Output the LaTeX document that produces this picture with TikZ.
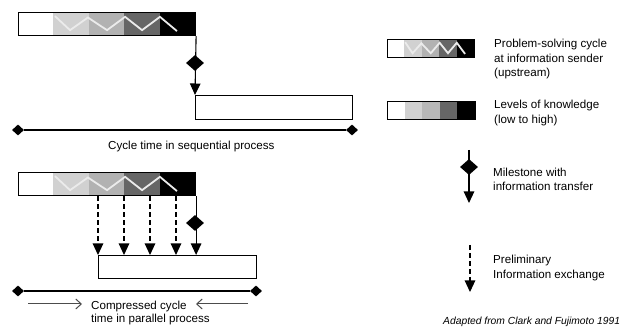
\documentclass[tikz,border=0pt]{standalone}
\usepackage{fontspec}
\setmainfont{Liberation Sans}
\usetikzlibrary{arrows.meta,shapes.geometric,calc}

% grey shading of a knowledge bar: five equal bands, light to dark
\newcommand{\shades}[5]{%
  \foreach \c [count=\i from 0] in {#5} {
    \fill[black!\c] ({#1+\i*#3/5},#2) rectangle ({#1+(\i+1)*#3/5},{#2+#4});
  }}
% white zigzag of the problem-solving cycle inside a bar
\newcommand{\zigzag}[4]{%
  \draw[zig] ({#1+0.209*#3},{#2+0.18*#4}) -- ({#1+0.294*#3},{#2+0.79*#4})
    -- ({#1+0.395*#3},{#2+0.24*#4}) -- ({#1+0.503*#3},{#2+0.79*#4})
    -- ({#1+0.605*#3},{#2+0.21*#4}) -- ({#1+0.701*#3},{#2+0.79*#4})
    -- ({#1+0.802*#3},{#2+0.21*#4}) -- ({#1+0.898*#3},{#2+0.83*#4});}

\tikzset{
  lbl/.style={anchor=base west, inner sep=0pt, font=\fontsize{11.6}{14}\selectfont},
  credit/.style={anchor=base west, inner sep=0pt, font=\fontsize{10.3}{12}\selectfont\itshape},
  frame/.style={draw=black, line width=1.1pt, anchor=north west, inner sep=0pt},
  stone/.style={diamond, fill=black, inner sep=0pt, minimum width=18pt, minimum height=16pt},
  endmark/.style={diamond, fill=black, inner sep=0pt, minimum width=12pt, minimum height=11pt},
  flow/.style={line width=1.1pt, -{Triangle[width=10.5pt,length=11.5pt]}},
  prelim/.style={flow, dash pattern=on 5pt off 3pt},
  zig/.style={white!92!black, line width=1.8pt, line join=miter},
  span/.style={line width=1.1pt},
  squeeze/.style={line width=1pt, draw=black!70, -{Straight Barb[length=5.5pt,width=10pt]}}
}

\begin{document}
\begin{tikzpicture}[x=1pt,y=-1pt]
\useasboundingbox (0,0) rectangle (625,328);

% ---------- sequential process ----------
\shades{18}{12}{177}{23}{0,18,30,60,100}
\zigzag{18}{12}{177}{23}
\node[frame, minimum width=177pt, minimum height=23pt] (barA) at (18,12) {};
\node[frame, minimum width=157pt, minimum height=24pt] (boxA) at (195,95) {};
\draw[flow] (barA.south east) -- (boxA.north west);
\node[stone] (msA) at (195,63) {};
\node[endmark] (startA) at (18,130) {};
\node[endmark] (stopA) at (352,130) {};
\draw[span] (startA) -- (stopA);
\node[lbl] (capA) at (108,150) {Cycle time in sequential process};

% ---------- parallel process ----------
\shades{18}{172}{177}{23}{0,18,30,60,100}
\zigzag{18}{172}{177}{23}
\node[frame, minimum width=177pt, minimum height=23pt] (barB) at (18,172) {};
\node[frame, minimum width=158pt, minimum height=23pt] (boxB) at (98,255) {};
\foreach \dx in {0,26,52,78}
  \draw[prelim] ([xshift=\dx pt]boxB.north west |- barB.south)
    -- ([xshift=\dx pt]boxB.north west);
\draw[flow] (barB.south east) -- (barB.south east |- boxB.north);
\node[stone] (msB) at (195,223) {};
\node[endmark] (startB) at (18,291) {};
\node[endmark] (stopB) at (256,291) {};
\draw[span] (startB) -- (stopB);
\coordinate (inL0) at (28,304);
\coordinate (inL1) at (82,304);
\coordinate (inR0) at (248,304);
\coordinate (inR1) at (196,304);
\draw[squeeze] (inL0) -- (inL1);
\draw[squeeze] (inR0) -- (inR1);
\node[lbl] (capB1) at (91,310) {Compressed cycle};
\node[lbl] (capB2) at (91,322.5) {time in parallel process};

% ---------- key ----------
\shades{387}{39}{87}{18}{0,18,30,60,100}
\zigzag{387}{39}{87}{18}
\node[frame, minimum width=87pt, minimum height=18pt] (keyCycle) at (387,39) {};
\node[lbl] (tCycle1) at (494,48) {Problem-solving cycle};
\node[lbl] (tCycle2) at (494,62.5) {at information sender};
\node[lbl] (tCycle3) at (494,77) {(upstream)};

\shades{387}{101}{88}{18}{0,18,28,60,100}
\node[frame, minimum width=88pt, minimum height=18pt] (keyLevels) at (387,101) {};
\node[lbl] (tLevels1) at (494,109) {Levels of knowledge};
\node[lbl] (tLevels2) at (494,123.5) {(low to high)};

\coordinate (msTop) at (469,150);
\coordinate (msEnd) at (469,203);
\draw[flow] (msTop) -- (msEnd);
\node[stone] (msKey) at (469,167) {};
\node[lbl] (tMile1) at (493,177) {Milestone with};
\node[lbl] (tMile2) at (493,191) {information transfer};

\coordinate (exTop) at (470,245);
\coordinate (exEnd) at (470,292);
\draw[prelim] (exTop) -- (exEnd);
\node[lbl] (tEx1) at (493,264) {Preliminary};
\node[lbl] (tEx2) at (493,279) {Information exchange};

\node[credit] (source) at (443,325) {Adapted from Clark and Fujimoto 1991};
\end{tikzpicture}
\end{document}
